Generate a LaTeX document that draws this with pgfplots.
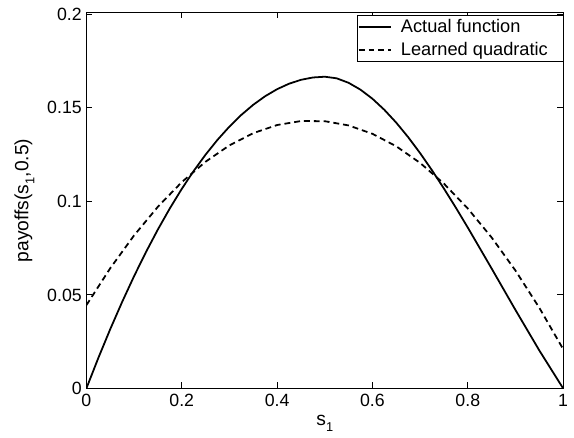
\documentclass[border=0pt]{standalone}
\usepackage{fontspec}
\setmainfont{Liberation Sans}
\usepackage{pgfplots}
\pgfplotsset{compat=1.18}

\begin{document}
\begin{tikzpicture}
\fontsize{18}{21}\selectfont
\begin{axis}[
    scale only axis,
    width=484pt, height=381.6pt,
    xmin=0, xmax=1, ymin=0, ymax=0.201,
    xtick={0,0.2,0.4,0.6,0.8,1},
    xticklabels={0,0.2,0.4,0.6,0.8,1},
    ytick={0,0.05,0.1,0.15,0.2},
    yticklabels={0,0.05,0.1,0.15,0.2},
    tick align=inside,
    major tick length=6pt,
    axis line style={line width=1pt},
    every tick/.style={black, line width=1pt},
    /pgf/number format/assume math mode=true,
    ticklabel style={font=\fontsize{18}{21}\selectfont},
    yticklabel style={xshift=1.5pt},
    label style={font=\fontsize{19.5}{22}\selectfont},
    xlabel={s\raisebox{-0.6ex}{\fontsize{13}{13}\selectfont 1}},
    ylabel={payoffs(s\raisebox{-0.6ex}{\fontsize{13}{13}\selectfont 1},0.5)},
    xlabel style={at={(axis description cs:0.5,-0.092)}, anchor=center},
    ylabel style={at={(axis description cs:-0.13,0.5)}, anchor=center},
    legend style={at={(1,1)}, anchor=north east, xshift=1pt, yshift=-2.3pt,
        draw=black, line width=1pt, inner xsep=0pt, inner ysep=1pt,
        row sep=1pt,
        nodes={inner ysep=3pt, inner xsep=3pt, font=\fontsize{18.5}{21}\selectfont},
        /tikz/every odd column/.append style={column sep=6pt}},
    legend cell align=left,
    legend image code/.code={\draw[#1] (0pt,0pt) -- (33pt,0pt);},
]
\addplot[black, line width=1.8pt] coordinates {
(0,0) (0.025,0.01625) (0.05,0.031667) (0.075,0.04625) (0.1,0.06)
(0.125,0.072917) (0.15,0.085) (0.175,0.09625) (0.2,0.106667)
(0.225,0.11625) (0.25,0.125) (0.275,0.132917) (0.3,0.14)
(0.325,0.14625) (0.35,0.151667) (0.375,0.15625) (0.4,0.16)
(0.425,0.162917) (0.45,0.165) (0.475,0.16625) (0.5,0.166667)
(0.525,0.165813) (0.55,0.163406) (0.575,0.159728) (0.6,0.15488)
(0.625,0.148962) (0.65,0.142074) (0.675,0.134316) (0.7,0.12579)
(0.725,0.116595) (0.75,0.106831) (0.775,0.096599) (0.8,0.086)
(0.85,0.064099) (0.9,0.04193) (0.95,0.020296) (1,0)
};
\addlegendentry{Actual function}
\addplot[black, line width=1.8pt, dash pattern=on 6pt off 4pt] coordinates {
(0,0.0445) (0.05,0.064252) (0.1,0.081799) (0.15,0.097146) (0.2,0.110288)
(0.25,0.121229) (0.3,0.129965) (0.35,0.136501) (0.4,0.140832)
(0.45,0.142962) (0.5,0.142887) (0.55,0.140612) (0.6,0.136132)
(0.65,0.129451) (0.7,0.120565) (0.75,0.109478) (0.8,0.096188)
(0.85,0.080696) (0.9,0.062999) (0.95,0.043102) (1,0.021)
};
\addlegendentry{Learned quadratic\hspace*{13pt}}
\end{axis}
\path ([xshift=-87.7pt,yshift=-47.7pt]current axis.south west) rectangle ([xshift=2.3pt,yshift=12.7pt]current axis.north east);
\end{tikzpicture}
\end{document}
